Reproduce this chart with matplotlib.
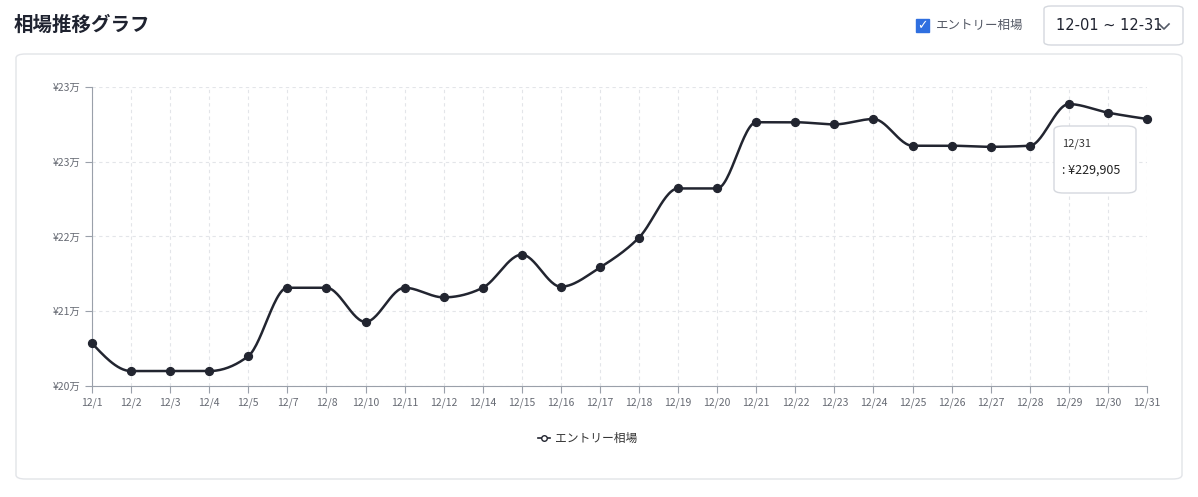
import matplotlib.pyplot as plt
from matplotlib.patches import FancyBboxPatch, Rectangle
import numpy as np

plt.rcParams['font.family'] = ['Noto Sans CJK JP', 'DejaVu Sans']

dates = ["12/1", "12/2", "12/3", "12/4", "12/5", "12/7", "12/8", "12/10", "12/11", "12/12",
         "12/14", "12/15", "12/16", "12/17", "12/18", "12/19", "12/20", "12/21", "12/22",
         "12/23", "12/24", "12/25", "12/26", "12/27", "12/28", "12/29", "12/30", "12/31"]
prices = [208900, 206300, 206300, 206300, 207700, 214100, 214100, 210900, 214100, 213200,
          214100, 217200, 214200, 216000, 218800, 223400, 223400, 229600, 229600,
          229400, 229900, 227400, 227400, 227300, 227400, 231300, 230500, 229905]
ytick_labels = ["¥20万", "¥21万", "¥22万", "¥23万", "¥23万"]
y_min, y_max = 204900, 232900


def monotone_tangents(y):
    # same idea as d3 curveMonotoneX, unit spacing
    n = len(y)
    s = np.diff(y)
    t = np.zeros(n)
    for i in range(1, n - 1):
        s0, s1 = s[i - 1], s[i]
        p = (s0 + s1) / 2
        t[i] = (np.sign(s0) + np.sign(s1)) * min(abs(s0), abs(s1), 0.5 * abs(p))
    t[0] = (3 * s[0] - t[1]) / 2
    t[-1] = (3 * s[-1] - t[-2]) / 2
    return t


def monotone_curve(y, steps=30):
    y = np.asarray(y, dtype=float)
    t = monotone_tangents(y)
    xs, ys = [], []
    for i in range(len(y) - 1):
        u = np.linspace(0, 1, steps)
        h00 = 2 * u**3 - 3 * u**2 + 1
        h10 = u**3 - 2 * u**2 + u
        h01 = -2 * u**3 + 3 * u**2
        h11 = u**3 - u**2
        xs.extend(i + u)
        ys.extend(h00 * y[i] + h10 * t[i] + h01 * y[i + 1] + h11 * t[i + 1])
    return np.array(xs), np.array(ys)


fig = plt.figure(figsize=(11.98, 4.97), dpi=100)

# card
fig.patches.append(FancyBboxPatch((16 / 1198, 18 / 497), 1166 / 1198, 425 / 497,
                                  boxstyle="round,pad=0,rounding_size=0.008",
                                  transform=fig.transFigure, facecolor='white',
                                  edgecolor='#e2e4e8', linewidth=1, zorder=-1))

fig.text(14 / 1198, 1 - 25 / 497, "相場推移グラフ", fontsize=14, fontweight='bold',
         color='#1f2330', va='center')
fig.patches.append(Rectangle((916 / 1198, 1 - 32 / 497), 13 / 1198, 13 / 497,
                             transform=fig.transFigure, facecolor='#2f6fe0',
                             edgecolor='#2f6fe0'))
fig.text(922.5 / 1198, 1 - 25.5 / 497, "✓", fontsize=9, color='white', ha='center',
         va='center', fontweight='bold', family=['DejaVu Sans'])
fig.text(936 / 1198, 1 - 25 / 497, "エントリー相場", fontsize=9, color='#555a66', va='center')
fig.patches.append(FancyBboxPatch((1044 / 1198, 1 - 45 / 497), 139 / 1198, 39 / 497,
                                  boxstyle="round,pad=0,rounding_size=0.006",
                                  transform=fig.transFigure, facecolor='white',
                                  edgecolor='#d5d8de', linewidth=1))
fig.text(1056 / 1198, 1 - 26 / 497, "12-01 ~ 12-31", fontsize=10.5, color='#1f2330',
         va='center', family=['DejaVu Sans'])
# chevron drawn as a shape
fig.lines.append(plt.Line2D([1159 / 1198, 1164 / 1198, 1169 / 1198],
                            [1 - 24 / 497, 1 - 29 / 497, 1 - 24 / 497],
                            transform=fig.transFigure, color='#555a66', linewidth=1.2))

ax = fig.add_axes([92 / 1198, 111 / 497, 1055 / 1198, 299 / 497])
ax.patch.set_alpha(0)
x = np.arange(len(dates))
cx, cy = monotone_curve(prices)
ax.plot(cx, cy, color='#222530', linewidth=1.8, zorder=3, clip_on=False)
ax.scatter(x, prices, s=32, color='#222530', zorder=4, clip_on=False)

ax.set_xlim(0, len(dates) - 1)
ax.set_ylim(y_min, y_max)
ax.set_xticks(x)
ax.set_xticklabels(dates)
ax.set_yticks(np.linspace(y_min, y_max, len(ytick_labels)))
ax.set_yticklabels(ytick_labels)
ax.tick_params(axis='both', labelsize=7.5, colors='#666a73', length=5, color='#9aa0aa')
ax.grid(True, linestyle=(0, (3, 3)), color='#e3e5e9', linewidth=0.8)
for side in ['top', 'right']:
    ax.spines[side].set_visible(False)
for side in ['left', 'bottom']:
    ax.spines[side].set_color('#9aa0aa')

# tooltip
fig.patches.append(FancyBboxPatch((1054 / 1198, 1 - 193 / 497), 82 / 1198, 67 / 497,
                                  boxstyle="round,pad=0,rounding_size=0.008",
                                  transform=fig.transFigure, facecolor='white',
                                  edgecolor='#d5d8de', linewidth=1, zorder=10))
fig.text(1062 / 1198, 1 - 144 / 497, dates[-1], fontsize=8, color='#333', va='center',
         zorder=11)
fig.text(1062 / 1198, 1 - 170 / 497, f": ¥{prices[-1]:,}", fontsize=9, color='#222',
         va='center', zorder=11)

# legend
fig.lines.append(plt.Line2D([538 / 1198, 550 / 1198], [1 - 438 / 497] * 2,
                            transform=fig.transFigure, color='#222530', linewidth=1.2))
fig.lines.append(plt.Line2D([544 / 1198], [1 - 438 / 497], transform=fig.transFigure,
                            marker='o', markersize=4, markerfacecolor='white',
                            markeredgecolor='#222530', linestyle='none'))
fig.text(555 / 1198, 1 - 438 / 497, "エントリー相場", fontsize=8.5, color='#333', va='center')

fig.savefig("out.png", dpi=100)
